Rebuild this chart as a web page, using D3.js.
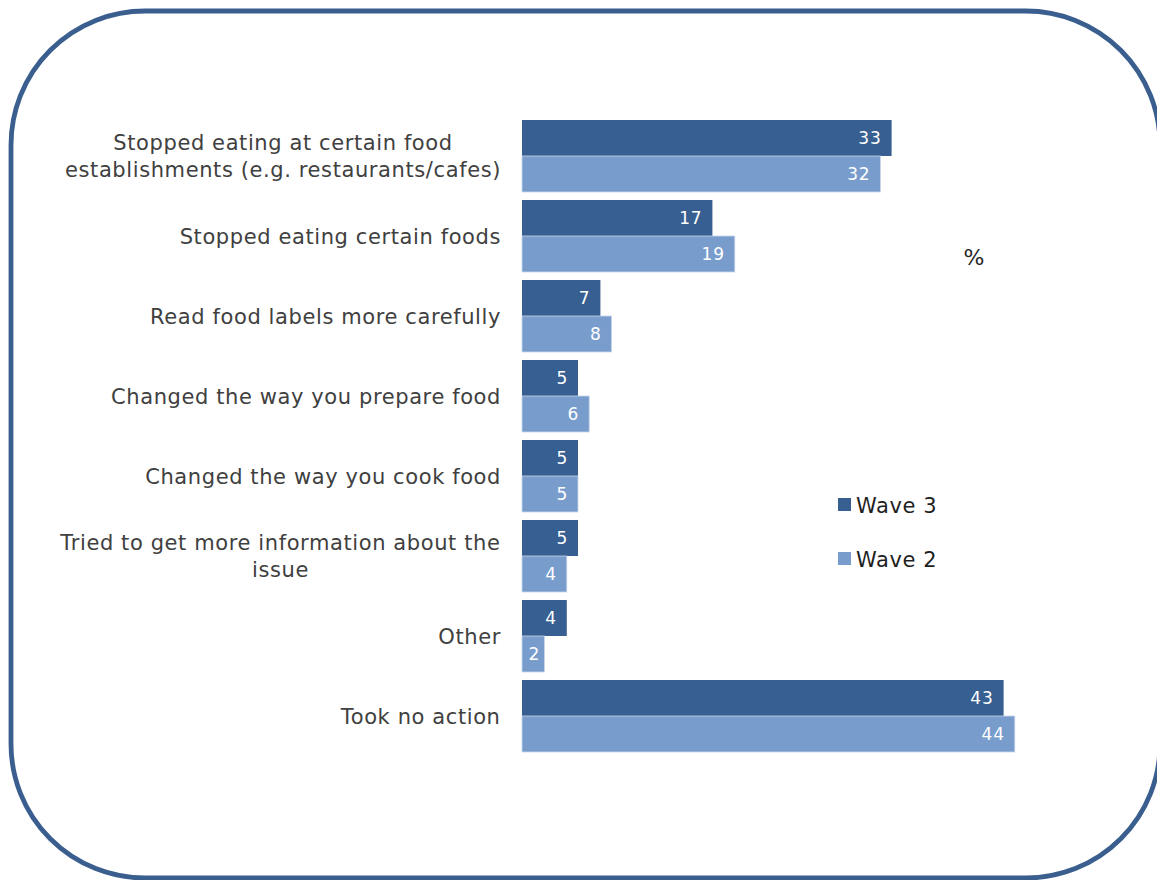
<!DOCTYPE html>
<html>
<head>
<meta charset="utf-8">
<script src="https://cdn.jsdelivr.net/npm/d3@7"></script>
<style>
  html, body { margin: 0; padding: 0; background: #fff; }
  svg { display: block; }
</style>
</head>
<body>
<script>
// Actions taken, two survey waves (%)
const categories = [
  ["Stopped eating at certain food", "establishments (e.g. restaurants/cafes)"],
  ["Stopped eating certain foods"],
  ["Read food labels more carefully"],
  ["Changed the way you prepare food"],
  ["Changed the way you cook food"],
  ["Tried to get more information about the", "issue"],
  ["Other"],
  ["Took no action"]
];
const wave3 = [33, 17, 7, 5, 5, 5, 4, 43];
const wave2 = [32, 19, 8, 6, 5, 4, 2, 44];
const seriesNames = ["Wave 3", "Wave 2"];
const seriesColors = ["#375F91", "#789DCC"];
const unitLabel = "%";

const W = 1157, H = 880;
const svg = d3.select("body").append("svg").attr("width", W).attr("height", H);

// rounded frame
svg.append("rect")
  .attr("x", 11).attr("y", 11)
  .attr("width", 1149).attr("height", 867)
  .attr("rx", 134).attr("ry", 134)
  .attr("fill", "none")
  .attr("stroke", "#3A5F8E")
  .attr("stroke-width", 4.8);

const keys = categories.map((d, i) => i);
const x = d3.scaleLinear().domain([0, 44]).range([522, 522 + 44 * 11.2]);
const y = d3.scaleBand().domain(keys).range([116, 756]).paddingInner(0.1).paddingOuter(0.05);
const ySub = d3.scaleBand().domain([0, 1]).range([0, y.bandwidth()]);

const rows = keys.map(i => [wave3[i], wave2[i]]);

const g = svg.append("g");
const grp = g.selectAll("g.cat").data(rows).join("g")
  .attr("class", "cat")
  .attr("transform", (d, i) => `translate(0,${y(i)})`);

grp.selectAll("rect").data(d => d).join("rect")
  .attr("x", x(0))
  .attr("y", (d, j) => ySub(j))
  .attr("width", d => x(d) - x(0))
  .attr("height", ySub.bandwidth())
  .attr("fill", (d, j) => seriesColors[j])
  .attr("stroke", (d, j) => j === 1 ? "#C9D8EC" : "none")
  .attr("stroke-width", 0.8);

grp.selectAll("text").data(d => d).join("text")
  .attr("x", d => Math.max(x(d) - 10, x(0) + 18))
  .attr("y", (d, j) => ySub(j) + ySub.bandwidth() / 2)
  .attr("dy", "0.36em")
  .attr("text-anchor", "end")
  .attr("fill", "#fff")
  .style("font-family", "'DejaVu Sans', Verdana, sans-serif")
  .style("font-size", "17px")
  .style("letter-spacing", "0.8px")
  .text(d => d);

// category labels
const lineH = 27;
const catG = svg.append("g")
  .style("font-family", "'DejaVu Sans', Verdana, sans-serif")
  .style("font-size", "21px")
  .style("letter-spacing", "0.6px")
  .attr("fill", "#404040");

categories.forEach((lines, i) => {
  const cy = y(i) + y.bandwidth() / 2;
  const t = catG.append("text").attr("text-anchor", "middle");
  const n = lines.length;
  lines.forEach((ln, k) => {
    t.append("tspan").attr("x", 0)
      .attr("y", cy + (k - (n - 1) / 2) * lineH)
      .attr("dy", "0.36em")
      .text(ln);
  });
  // right-align the centred block to the axis
  const bb = t.node().getBBox();
  t.attr("transform", `translate(${501 - bb.width / 2},0)`);
});

// unit label
svg.append("text")
  .attr("x", 974).attr("y", 257).attr("dy", "0.36em")
  .attr("text-anchor", "middle")
  .attr("fill", "#262626")
  .style("font-family", "'DejaVu Sans', Verdana, sans-serif")
  .style("font-size", "22px")
  .text(unitLabel);

// legend
const leg = svg.append("g").attr("transform", "translate(838,498)");
const li = leg.selectAll("g").data(seriesNames).join("g")
  .attr("transform", (d, i) => `translate(0,${i * 54})`);
li.append("rect").attr("width", 13).attr("height", 13)
  .attr("fill", (d, i) => seriesColors[i]);
li.append("text").attr("x", 18).attr("y", 7).attr("dy", "0.36em")
  .attr("fill", "#1F1F1F")
  .style("font-family", "'DejaVu Sans', Verdana, sans-serif")
  .style("font-size", "21px")
  .style("letter-spacing", "0.6px")
  .text(d => d);
</script>
</body>
</html>
